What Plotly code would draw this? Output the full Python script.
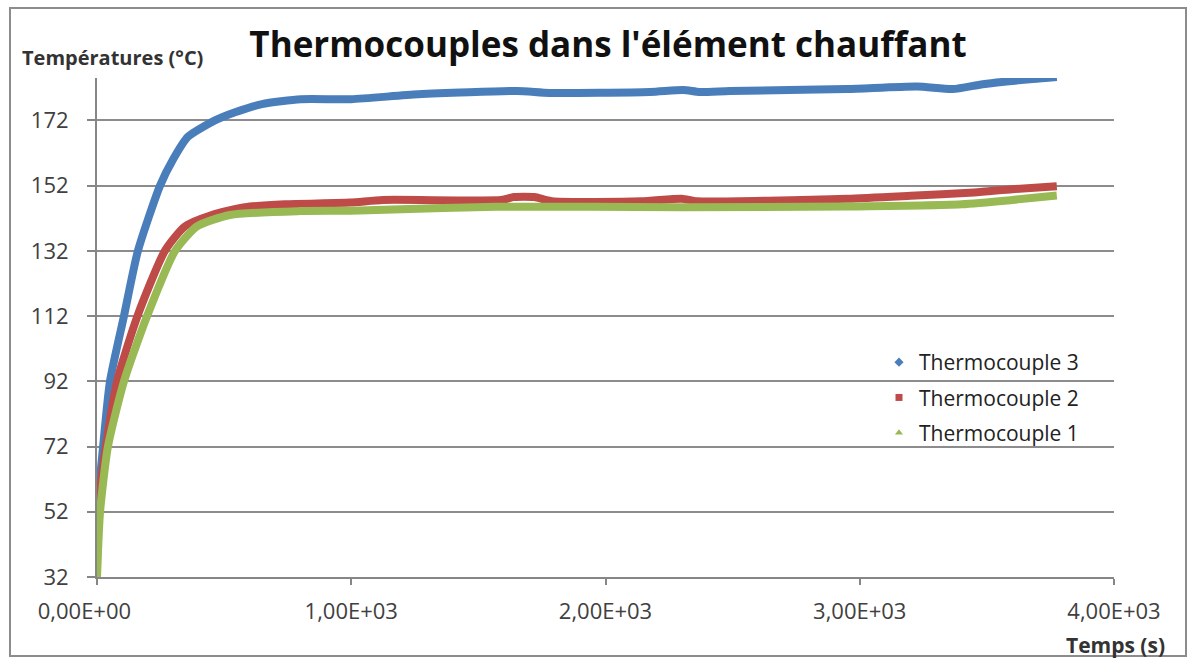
import plotly.graph_objects as go

# Thermocouple readings (time in s, temperature in °C)
time_tc3 = [0, 4, 24, 51, 106, 161, 248, 299, 358, 464, 543, 649, 802, 1000, 1263,
            1652, 1781, 2175, 2305, 2371, 2489, 2949, 3225, 3366, 3484, 3681, 3775]
temp_tc3 = [45, 55, 72, 92, 112, 132, 152, 160, 167, 172, 174.5, 177, 178.5, 178.5, 180,
            181, 180.4, 180.7, 181.3, 180.7, 181, 181.6, 182.4, 181.6, 183.1, 184.7, 185.3]

time_tc2 = [0, 4, 35, 79, 159, 267, 346, 452, 582, 739, 995, 1125, 1590, 1640, 1720,
            1790, 2140, 2300, 2360, 2950, 3200, 3450, 3600, 3775]
temp_tc2 = [33, 52, 72, 92, 112, 132, 139.5, 143, 145.4, 146.3, 146.8, 147.6, 147.6, 148.5,
            148.5, 147.2, 147.2, 148, 147.2, 148, 148.9, 149.9, 150.9, 151.8]

time_tc1 = [0, 4, 12, 43, 106, 197, 307, 393, 523, 800, 995, 1130, 1570, 2300, 2950,
            3400, 3600, 3775]
temp_tc1 = [32, 40, 52, 72, 92, 112, 132, 139.5, 143, 144.2, 144.3, 144.6, 145.5, 145.4,
            145.6, 146.3, 147.6, 149]

y_ticks = [32, 52, 72, 92, 112, 132, 152, 172]
x_ticks = [0, 1000, 2000, 3000, 4000]
x_tick_text = ["0,00E+00\u2007\u2007", "1,00E+03", "2,00E+03", "3,00E+03", "4,00E+03"]

series = [
    ("Thermocouple 3", time_tc3, temp_tc3, "#4a7ebb", "diamond"),
    ("Thermocouple 2", time_tc2, temp_tc2, "#be4b48", "square"),
    ("Thermocouple 1", time_tc1, temp_tc1, "#98b954", "triangle-up"),
]

FONT = "Open Sans"
W, H = 1192, 663
L, R, T, B = 97, 1114, 78, 577   # plot area edges in pixels
PW, PH = R - L, B - T


def px(x):
    return (x - L) / PW


def py(y):
    return (B - y) / PH


fig = go.Figure()

for name, t, temp, color, symbol in series:
    fig.add_trace(go.Scatter(
        x=t, y=temp, mode="lines", name=name, showlegend=False,
        line=dict(color=color, width=8, shape="spline", smoothing=0.6),
        hoverinfo="x+y+name",
    ))

# legend entries use the series marker symbols
for name, t, temp, color, symbol in series:
    fig.add_trace(go.Scatter(
        x=[None], y=[None], mode="markers", name=name, legendgroup=name,
        marker=dict(color=color, symbol=symbol, size=7),
    ))

fig.update_layout(
    width=W, height=H,
    margin=dict(l=L, r=W - R, t=T, b=H - B),
    paper_bgcolor="white", plot_bgcolor="white",
    font=dict(family=FONT, color="#404040"),
    title=dict(text="Thermocouples dans l'élément chauffant",
               font=dict(family=FONT, size=35, color="#111111", weight="bold"),
               x=608 / W, xanchor="center", y=1 - 45 / H, yanchor="middle",
               xref="container", yref="container"),
    legend=dict(x=px(879), y=py(342), xanchor="left", yanchor="top",
                bgcolor="rgba(0,0,0,0)",
                font=dict(family=FONT, size=21, color="#222222"),
                tracegroupgap=5, itemwidth=30),
    showlegend=True,
)

fig.update_xaxes(
    range=[0, 4000], tickvals=x_ticks, ticktext=x_tick_text,
    showgrid=False, zeroline=False,
    showline=True, linecolor="#868686", linewidth=2,
    ticks="outside", ticklen=6, tickwidth=2, tickcolor="#868686",
    tickfont=dict(family=FONT, size=22, color="#404040"),
    ticklabelstandoff=8,
)
fig.update_yaxes(
    range=[32, 185], tickvals=y_ticks,
    showgrid=True, gridcolor="#8c8c8c", gridwidth=2, zeroline=False,
    showline=True, linecolor="#868686", linewidth=2,
    ticks="outside", ticklen=8, tickwidth=2, tickcolor="#868686",
    tickfont=dict(family=FONT, size=22, color="#404040"),
    ticklabelstandoff=14,
)

# axis titles placed as in the chart layout
fig.add_annotation(text="<b>Températures (°C)</b>", xref="paper", yref="paper",
                   x=px(112), y=py(57), showarrow=False,
                   xanchor="center", yanchor="middle",
                   font=dict(family=FONT, size=20, color="#333333"))
fig.add_annotation(text="<b>Temps (s)</b>", xref="paper", yref="paper",
                   x=px(1115), y=py(645), showarrow=False,
                   xanchor="center", yanchor="middle",
                   font=dict(family=FONT, size=21, color="#333333"))

# chart area frame
fig.add_shape(type="rect", xref="paper", yref="paper",
              x0=px(10), x1=px(1186), y0=py(656), y1=py(8),
              line=dict(color="#8c8c8c", width=2), layer="below")

fig.write_html("out.html")
